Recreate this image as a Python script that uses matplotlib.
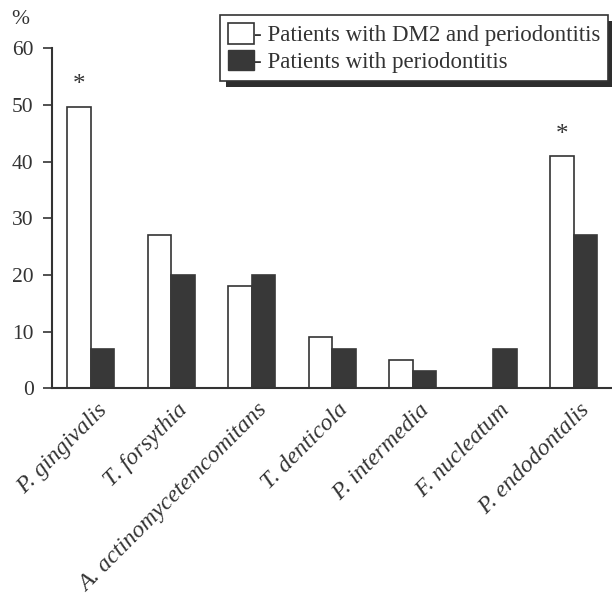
import matplotlib.pyplot as plt
import numpy as np
from matplotlib.patches import Rectangle, Patch

species = ["P. gingivalis", "T. forsythia", "A. actinomycetemcomitans",
           "T. denticola", "P. intermedia", "F. nucleatum", "P. endodontalis"]
dm2_perio = [49.7, 27, 18, 9, 5, 0, 41]
perio_only = [7, 20, 20, 7, 3, 7, 27]
significant = [True, False, False, False, False, False, True]

plt.rcParams['font.family'] = ['Liberation Serif', 'DejaVu Serif']

dark = '#383838'
edge = '#333333'

fig = plt.figure(figsize=(6.12, 6.0), dpi=100)
ax = fig.add_axes([0.0845, 0.3528, 0.9155, 0.5667])

x = np.arange(len(species))
w = 0.29
ax.bar(x - w / 2, dm2_perio, w, color='white', edgecolor=edge, linewidth=1.2)
ax.bar(x + w / 2, perio_only, w, color=dark, edgecolor=dark, linewidth=1.2)

# asterisks for significant differences
for xi, val, sig in zip(x, dm2_perio, significant):
    if sig:
        ax.text(xi - w / 2, val + 1.8, '*', ha='center', va='bottom',
                fontsize=18, color='#333333')

ax.set_xlim(-0.484, 6.476)
ax.set_ylim(0, 60)
ax.set_yticks([0, 10, 20, 30, 40, 50, 60])
ax.tick_params(axis='y', direction='out', length=6.5, width=1.2,
               labelsize=15.5, colors='#333333', pad=6.5)
ax.tick_params(axis='x', length=0, pad=8)
ax.set_xticks(x + 0.07)
ax.set_xticklabels(species, rotation=45, ha='right', va='top',
                   rotation_mode='anchor', fontsize=17.2, style='italic',
                   color='#333333')

for s in ['top', 'right']:
    ax.spines[s].set_visible(False)
ax.spines['left'].set_linewidth(1.5)
ax.spines['bottom'].set_linewidth(1.5)
ax.spines['left'].set_color('#333333')
ax.spines['bottom'].set_color('#333333')

ax.text(-0.057, 1.085, '%', transform=ax.transAxes, fontsize=15.5,
        ha='center', va='center', color='#333333')

handles = [Patch(facecolor='white', edgecolor=edge, linewidth=1.2),
           Patch(facecolor=dark, edgecolor=dark)]
labels = ['- Patients with DM2 and periodontitis', '- Patients with periodontitis']
leg = ax.legend(handles, labels, loc='upper right', bbox_to_anchor=(0.993, 1.098),
                fontsize=16.5, frameon=True, fancybox=False, handlelength=1.1,
                handleheight=1.0, handletextpad=0.0, labelspacing=0.15,
                borderpad=0.35, borderaxespad=0, labelcolor='#333333')
leg.get_frame().set_edgecolor('#333333')
leg.get_frame().set_linewidth(1.2)
leg.get_frame().set_alpha(1)

# drop shadow behind the legend
fig.canvas.draw()
bb = leg.get_window_extent()
shadow = Rectangle((bb.x0 + 6, bb.y0 - 6), bb.width, bb.height, transform=None,
                   facecolor='#2e2e2e', edgecolor='none', zorder=4.9, clip_on=False)
ax.add_artist(shadow)

fig.savefig('out.png', dpi=100, facecolor='white')
